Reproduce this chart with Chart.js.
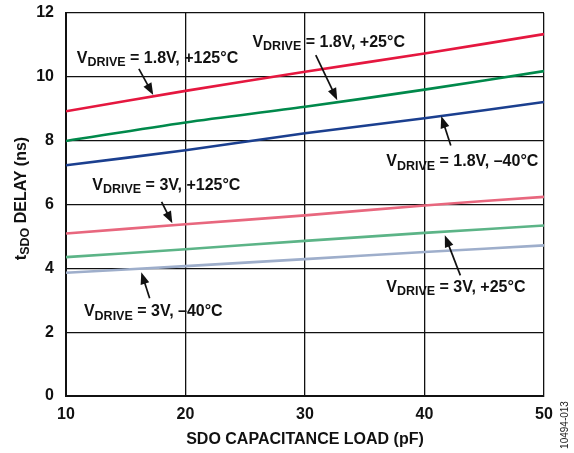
<!DOCTYPE html>
<html>
<head>
<meta charset="utf-8">
<script src="https://cdn.jsdelivr.net/npm/chart.js@4.4.1/dist/chart.umd.min.js"></script>
<style>
  html, body { margin: 0; padding: 0; background: #fff; }
  #wrap { width: 574px; height: 453px; }
</style>
</head>
<body>
<div id="wrap"><canvas id="delayChart" width="574" height="453"></canvas></div>
<script>
// SDO capacitance load (pF)
const loads = [10, 20, 30, 40, 50];

// tSDO delay (ns)
const v18Hot = [8.92, 9.56, 10.16, 10.73, 11.34];
const v18Room = [7.99, 8.57, 9.06, 9.60, 10.18];
const v18Cold = [7.23, 7.70, 8.23, 8.70, 9.21];
const v3Hot = [5.09, 5.38, 5.66, 5.97, 6.24];
const v3Room = [4.35, 4.60, 4.86, 5.11, 5.34];
const v3Cold = [3.86, 4.07, 4.29, 4.51, 4.72];

const xTicks = [10, 20, 30, 40, 50];
const yTicks = [0, 2, 4, 6, 8, 10, 12];

const FONT = '"Liberation Sans", Arial, sans-serif';

// callouts: label text, where the text sits and where the arrow points (data units)
const callouts = [
    { vdrive: '1.8V', temp: '+125°C', tx: 10.9, ty: 10.57, ax0: 16.1, ay0: 10.25, ax1: 17.3, ay1: 9.43 },
    { vdrive: '1.8V', temp: '+25°C', tx: 25.6, ty: 11.08, ax0: 30.9, ay0: 10.68, ax1: 32.7, ay1: 9.27 },
    { vdrive: '1.8V', temp: '\u201340°C', tx: 36.8, ty: 7.33, ax0: 42.2, ay0: 7.85, ax1: 41.4, ay1: 8.77 },
    { vdrive: '3V', temp: '+125°C', tx: 12.2, ty: 6.60, ax0: 18.0, ay0: 6.08, ax1: 18.9, ay1: 5.41 },
    { vdrive: '3V', temp: '+25°C', tx: 36.8, ty: 3.40, ax0: 43.0, ay0: 3.78, ax1: 41.7, ay1: 5.04 },
    { vdrive: '3V', temp: '\u201340°C', tx: 11.5, ty: 2.63, ax0: 17.0, ay0: 3.06, ax1: 16.3, ay1: 3.88 },
];

function drawVdrive(ctx, x, yMid, vdrive, temp){
    ctx.fillStyle = '#111';
    ctx.textBaseline = 'middle';
    ctx.textAlign = 'left';
    ctx.font = 'bold 16px ' + FONT;
    ctx.fillText('V', x, yMid);
    let w = ctx.measureText('V').width;
    ctx.font = 'bold 12.5px ' + FONT;
    ctx.fillText('DRIVE', x + w, yMid + 4);
    w += ctx.measureText('DRIVE').width;
    ctx.font = 'bold 16px ' + FONT;
    ctx.fillText(' = ' + vdrive + ', ' + temp, x + w, yMid);
}

function drawArrow(ctx, x0, y0, x1, y1){
    const ang = Math.atan2(y1 - y0, x1 - x0);
    const head = 12, half = 4.5;
    ctx.strokeStyle = '#111';
    ctx.fillStyle = '#111';
    ctx.lineWidth = 1.7;
    ctx.beginPath();
    ctx.moveTo(x0, y0);
    ctx.lineTo(x1 - Math.cos(ang) * head * 0.8, y1 - Math.sin(ang) * head * 0.8);
    ctx.stroke();
    ctx.beginPath();
    ctx.moveTo(x1, y1);
    ctx.lineTo(x1 - Math.cos(ang) * head - Math.sin(ang) * half, y1 - Math.sin(ang) * head + Math.cos(ang) * half);
    ctx.lineTo(x1 - Math.cos(ang) * head + Math.sin(ang) * half, y1 - Math.sin(ang) * head - Math.cos(ang) * half);
    ctx.closePath();
    ctx.fill();
}

const annotationPlugin = {
    id: 'annotations',
    afterDatasetsDraw(chart){
        const ctx = chart.ctx;
        const xs = chart.scales.x, ys = chart.scales.y;
        ctx.save();
        callouts.forEach(c => {
            drawVdrive(ctx, xs.getPixelForValue(c.tx), ys.getPixelForValue(c.ty), c.vdrive, c.temp);
            drawArrow(ctx, xs.getPixelForValue(c.ax0), ys.getPixelForValue(c.ay0),
                xs.getPixelForValue(c.ax1), ys.getPixelForValue(c.ay1));
        });

        // y axis title with subscript
        const area = chart.chartArea;
        ctx.translate(22, (area.top + area.bottom) / 2 - 6);
        ctx.rotate(-Math.PI / 2);
        ctx.fillStyle = '#111';
        ctx.textBaseline = 'middle';
        ctx.textAlign = 'left';
        const t = 't';
        const rest = ' DELAY (ns)';
        ctx.font = 'bold 12.5px ' + FONT;
        const subW = ctx.measureText('SDO').width;
        ctx.font = 'bold 16px ' + FONT;
        const total = ctx.measureText(t).width + subW + ctx.measureText(rest).width;
        let px = -total / 2;
        ctx.fillText(t, px, 0);
        px += ctx.measureText(t).width;
        ctx.font = 'bold 12.5px ' + FONT;
        ctx.fillText('SDO', px, 4);
        px += subW;
        ctx.font = 'bold 16px ' + FONT;
        ctx.fillText(rest, px, 0);
        ctx.restore();

        // figure id on the right
        ctx.save();
        ctx.translate(565, 425);
        ctx.rotate(-Math.PI / 2);
        ctx.fillStyle = '#222';
        ctx.font = '10px ' + FONT;
        ctx.textAlign = 'center';
        ctx.textBaseline = 'middle';
        ctx.fillText('10494-013', 0, 0);
        ctx.restore();
    }
};

function series(data, color){
    return {
        data: loads.map((x, i) => ({ x: x, y: data[i] })),
        borderColor: color,
        borderWidth: 2.6,
        pointRadius: 0,
        tension: 0.3,
        fill: false
    };
}

new Chart(document.getElementById('delayChart'), {
    type: 'line',
    data: {
        datasets: [
            series(v18Hot, '#e5173f'),
            series(v18Room, '#00894b'),
            series(v18Cold, '#1b3f8f'),
            series(v3Hot, '#e8677e'),
            series(v3Room, '#5cb487'),
            series(v3Cold, '#9eaecb'),
        ]
    },
    options: {
        responsive: false,
        animation: false,
        layout: {
            padding: { left: 0, right: 30, top: 13, bottom: 0 }
        },
        plugins: {
            legend: { display: false },
            tooltip: { enabled: false },
            title: { display: false }
        },
        scales: {
            x: {
                type: 'linear',
                min: 10,
                max: 50,
                afterBuildTicks: (scale) => { scale.ticks = xTicks.map(v => ({ value: v })); },
                afterFit: (scale) => {
                    scale.height = 57;
                    scale.paddingLeft = 0;
                    scale.paddingRight = 0;
                },
                grid: { color: '#111', lineWidth: 1.3, drawTicks: false },
                border: { color: '#111', width: 2 },
                ticks: {
                    color: '#111',
                    padding: 9,
                    font: { family: FONT, size: 16, weight: 'bold' }
                },
                title: {
                    display: true,
                    text: 'SDO CAPACITANCE LOAD (pF)',
                    color: '#111',
                    padding: { top: 4 },
                    font: { family: FONT, size: 16, weight: 'bold' }
                }
            },
            y: {
                min: 0,
                max: 12,
                afterBuildTicks: (scale) => { scale.ticks = yTicks.map(v => ({ value: v })); },
                afterFit: (scale) => {
                    scale.width = 66;
                    scale.paddingTop = 0;
                    scale.paddingBottom = 0;
                },
                grid: { color: '#111', lineWidth: 1.3, drawTicks: false },
                border: { color: '#111', width: 2 },
                ticks: {
                    color: '#111',
                    padding: 12,
                    font: { family: FONT, size: 16, weight: 'bold' }
                }
            }
        }
    },
    plugins: [annotationPlugin]
});
</script>
</body>
</html>
